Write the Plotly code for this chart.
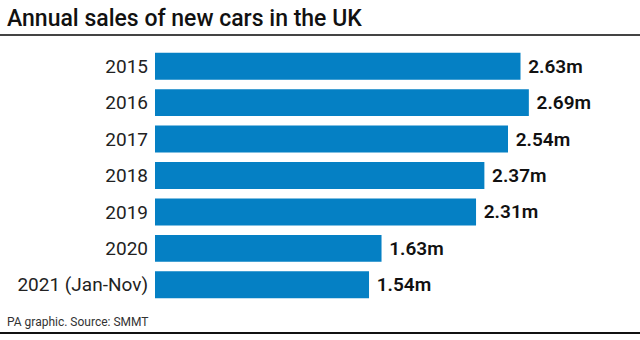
import plotly.graph_objects as go

categories = ["2015", "2016", "2017", "2018", "2019", "2020", "2021 (Jan-Nov)"]
sales_m = [2.63, 2.69, 2.54, 2.37, 2.31, 1.63, 1.54]
value_labels = ["2.63m", "2.69m", "2.54m", "2.37m", "2.31m", "1.63m", "1.54m"]

fig = go.Figure(go.Bar(
    y=categories, x=sales_m, orientation="h",
    marker=dict(color="#0580c4", line=dict(width=0)),
    text=["\u00a0" + t for t in value_labels], textposition="outside", cliponaxis=False,
    textfont=dict(family="Roboto", size=19, color="#111111", weight=600),
))

fig.update_layout(
    width=640, height=340,
    margin=dict(l=155, r=50, t=48, b=37),
    paper_bgcolor="white", plot_bgcolor="white",
    bargap=0.26, showlegend=False,
    font=dict(family="Roboto"),
    xaxis=dict(range=[0, 3.13], visible=False),
    yaxis=dict(autorange="reversed", ticks="", showline=False, showgrid=False,
               tickfont=dict(family="Roboto", size=19, color="#222222"),
               ticklabelstandoff=6),
    shapes=[
        dict(type="line", xref="paper", yref="paper", x0=-155/435, x1=(640-155)/435,
             y0=1 + (48-35)/255, y1=1 + (48-35)/255, line=dict(color="#444444", width=2)),
        dict(type="line", xref="paper", yref="paper", x0=-155/435, x1=(640-155)/435,
             y0=-(333-303)/255, y1=-(333-303)/255, line=dict(color="#111111", width=2)),
    ],
    annotations=[
        dict(text="Annual sales of new cars in the UK", xref="paper", yref="paper",
             x=-150/435, y=1 + (48-19)/255, xanchor="left", yanchor="middle", showarrow=False,
             font=dict(family="Roboto", size=23, color="#111111", weight=500)),
        dict(text="PA graphic. Source: SMMT", xref="paper", yref="paper",
             x=-150/435, y=-(322-303)/255, xanchor="left", yanchor="middle", showarrow=False,
             font=dict(family="Roboto", size=12, color="#333333")),
    ],
)

fig.write_html("out.html")
